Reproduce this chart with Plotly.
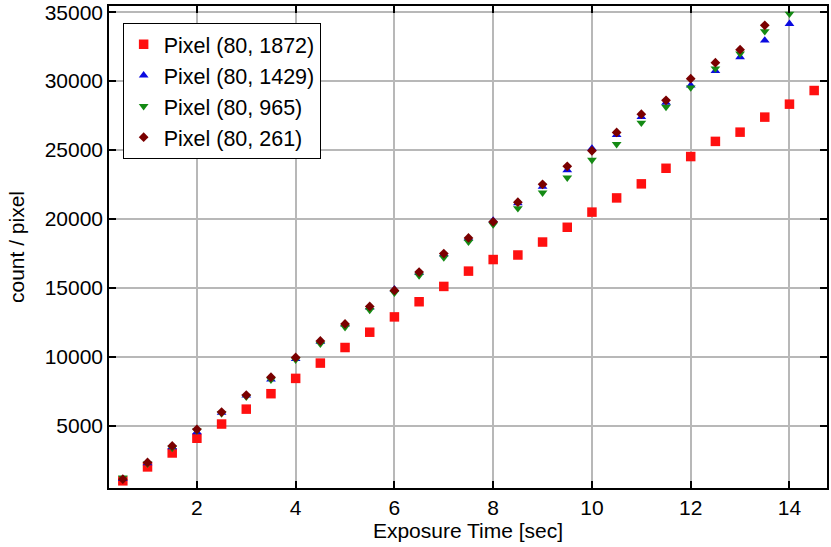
import plotly.graph_objects as go

# Exposure times [sec]
t_all = [0.5, 1.0, 1.5, 2.0, 2.5, 3.0, 3.5, 4.0, 4.5, 5.0, 5.5, 6.0, 6.5, 7.0, 7.5,
         8.0, 8.5, 9.0, 9.5, 10.0, 10.5, 11.0, 11.5, 12.0, 12.5, 13.0, 13.5, 14.0, 14.5]

# Pixel (80, 1872)
p1872 = [1010, 2020, 3030, 4100, 5130, 6210, 7330, 8440, 9550, 10680, 11790, 12900, 14000,
         15110, 16220, 17060, 17390, 18330, 19400, 20500, 21530, 22550, 23680, 24530, 25630,
         26300, 27390, 28330, 29320]

# Pixel (80, 1429)  (t = 0.5 .. 14)
p1429 = [1150, 2300, 3450, 4550, 5950, 7200, 8360, 9850, 11100, 12350, 13600, 14900, 16100,
         17450, 18600, 19900, 21150, 22350, 23550, 25120, 26100, 27400, 28450, 29700, 30740,
         31750, 32950, 34160]

# Pixel (80, 965)  (t = 0.5 .. 14)
p965 = [1250, 2250, 3400, 4650, 5900, 7100, 8350, 9800, 10950, 12150, 13400, 14650, 15900,
        17200, 18350, 19600, 20780, 21910, 23000, 24280, 25430, 26980, 28130, 29530, 30910,
        31990, 33610, 34880]

# Pixel (80, 261)  (t = 0.5 .. 13.5)
p261 = [1130, 2340, 3540, 4750, 6000, 7230, 8530, 9960, 11160, 12390, 13660, 14820, 16150,
        17490, 18630, 19800, 21220, 22520, 23820, 24950, 26280, 27600, 28610, 30180, 31340,
        32280, 34050]

x_ticks = [2, 4, 6, 8, 10, 12, 14]
y_ticks = [5000, 10000, 15000, 20000, 25000, 30000, 35000]

FONT = "Liberation Sans, Arial, Helvetica, sans-serif"

fig = go.Figure()
fig.add_trace(go.Scatter(x=t_all, y=p1872, mode="markers", name="Pixel (80, 1872)",
                         marker=dict(symbol="square", size=9.5, color="#ff1010")))
fig.add_trace(go.Scatter(x=t_all[:len(p1429)], y=p1429, mode="markers", name="Pixel (80, 1429)",
                         marker=dict(symbol="triangle-up", size=8.5, color="#0a0ae0")))
fig.add_trace(go.Scatter(x=t_all[:len(p965)], y=p965, mode="markers", name="Pixel (80, 965)",
                         marker=dict(symbol="triangle-down", size=8.5, color="#148a14")))
fig.add_trace(go.Scatter(x=t_all[:len(p261)], y=p261, mode="markers", name="Pixel (80, 261)",
                         marker=dict(symbol="diamond", size=7.5, color="#7a0000")))

axis_common = dict(
    showline=True, linecolor="black", linewidth=1.5, mirror="ticks",
    ticks="inside", ticklen=7, tickwidth=1.5, tickcolor="black",
    showgrid=True, gridcolor="#b8b8b8", gridwidth=1.5, zeroline=False,
    automargin=False,
    tickfont=dict(family=FONT, size=21, color="black"),
)

fig.update_layout(
    width=831, height=547,
    margin=dict(l=109, r=4, t=5.5, b=58.7),
    paper_bgcolor="white", plot_bgcolor="white",
    font=dict(family=FONT, size=21, color="black"),
    showlegend=True,
    legend=dict(x=0.019, y=0.965, xanchor="left", yanchor="top",
                bgcolor="white", bordercolor="black", borderwidth=1,
                font=dict(family=FONT, size=21.5, color="black")),
    xaxis=dict(range=[0.22, 14.76], tickvals=x_ticks, ticktext=[str(v) for v in x_ticks],
               title=dict(text="Exposure Time [sec]", standoff=3,
                          font=dict(family=FONT, size=21, color="black")),
               **axis_common),
    yaxis=dict(range=[490, 35450], tickvals=y_ticks, ticktext=[str(v) for v in y_ticks],
               title=dict(text="count / pixel", standoff=14,
                          font=dict(family=FONT, size=21, color="black")),
               **axis_common),
)

fig.write_html(
    "out.html",
    config={"displayModeBar": False},
    post_script="document.body.style.margin='0';document.body.style.padding='0';"
                "document.documentElement.style.overflow='hidden';",
)
